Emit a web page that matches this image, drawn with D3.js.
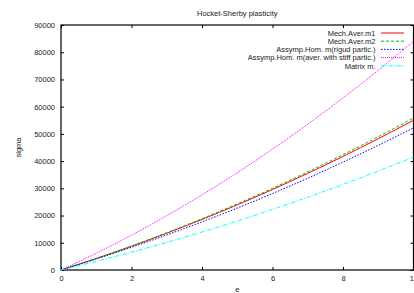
<!DOCTYPE html>
<html>
<head>
<meta charset="utf-8">
<script src="https://cdn.jsdelivr.net/npm/d3@7"></script>
<style>
  body { margin: 0; background: #fff; }
  svg { display: block; font-family: "Liberation Sans", Arial, sans-serif; }
</style>
</head>
<body>
<div id="chart"></div>
<script>
// strain values
var eValues = [0, 1, 2, 3, 4, 5, 6, 7, 8, 9, 10];

// sigma for each model
var mechAverM1 = [0, 4220, 8720, 13510, 18580, 23940, 29580, 35510, 41720, 48220, 55000];
var mechAverM2 = [0, 4280, 8850, 13710, 18860, 24300, 30020, 36040, 42350, 48940, 55830];
var assympRigid = [0, 4050, 8330, 12870, 17680, 22740, 28080, 33710, 39630, 45800, 52200];
var assympStiff = [0, 6150, 12800, 19950, 27600, 35750, 44400, 53550, 63200, 73350, 84000];
var matrixM = [0, 3160, 6540, 10140, 13960, 18000, 22260, 26740, 31440, 36360, 41500];

var xTicks = [0, 2, 4, 6, 8, 10];
var yTicks = [0, 10000, 20000, 30000, 40000, 50000, 60000, 70000, 80000, 90000];

var series = [
    {name: "Mech.Aver.m1", values: mechAverM1, color: "#ff0000", dash: null},
    {name: "Mech.Aver.m2", values: mechAverM2, color: "#00c000", dash: "3,2"},
    {name: "Assymp.Hom. m(rigud partic.)", values: assympRigid, color: "#0000ff", dash: "1.5,1.5"},
    {name: "Assymp.Hom. m(aver. with stiff partic.)", values: assympStiff, color: "#ff00ff", dash: "1,1"},
    {name: "Matrix m.", values: matrixM, color: "#00ffff", dash: "4,1.5,1,1.5"}
];

var width = 414, height = 293;
var margin = {left: 61, right: 0.5, top: 25, bottom: 23};

var svg = d3.select("#chart").append("svg")
    .attr("width", width)
    .attr("height", height);

var x = d3.scaleLinear().domain([0, 10]).range([margin.left, width - margin.right]);
var y = d3.scaleLinear().domain([0, 90000]).range([height - margin.bottom, margin.top]);

var tickLen = 3;

// bottom and top ticks
var xAxis = svg.append("g").attr("transform", "translate(0," + y(0) + ")")
    .call(d3.axisBottom(x).tickValues(xTicks).tickSize(-tickLen).tickPadding(6).tickFormat(d3.format("d")));
var xTop = svg.append("g").attr("transform", "translate(0," + y(90000) + ")")
    .call(d3.axisTop(x).tickValues(xTicks).tickSize(-tickLen).tickFormat(""));

var yAxis = svg.append("g").attr("transform", "translate(" + x(0) + ",0)")
    .call(d3.axisLeft(y).tickValues(yTicks).tickSize(-tickLen).tickPadding(6).tickFormat(d3.format("d")));
var yRight = svg.append("g").attr("transform", "translate(" + x(10) + ",0)")
    .call(d3.axisRight(y).tickValues(yTicks).tickSize(-tickLen).tickFormat(""));

svg.selectAll(".domain").remove();
svg.selectAll(".tick line").attr("stroke", "#000").attr("stroke-width", 1);
svg.selectAll(".tick text").attr("font-size", "7.5px").attr("fill", "#222");

// border
svg.append("rect")
    .attr("x", x(0)).attr("y", y(90000))
    .attr("width", x(10) - x(0)).attr("height", y(0) - y(90000))
    .attr("fill", "none").attr("stroke", "#000").attr("stroke-width", 1.2);

var line = d3.line()
    .x(function(d, i) { return x(eValues[i]); })
    .y(function(d) { return y(d); })
    .curve(d3.curveMonotoneX);

series.forEach(function(s) {
    svg.append("path")
        .attr("d", line(s.values))
        .attr("fill", "none")
        .attr("stroke", s.color)
        .attr("stroke-width", 1)
        .attr("stroke-dasharray", s.dash);
});

// legend
var legend = svg.append("g");
series.forEach(function(s, i) {
    var ly = 33 + i * 8.2;
    legend.append("text")
        .attr("x", 375.5).attr("y", ly + 2.7)
        .attr("text-anchor", "end")
        .attr("font-size", "7.5px")
        .attr("fill", "#222")
        .text(s.name);
    legend.append("line")
        .attr("x1", 381).attr("x2", 404)
        .attr("y1", ly).attr("y2", ly)
        .attr("stroke", s.color)
        .attr("stroke-width", 1)
        .attr("stroke-dasharray", s.dash);
});

// title and axis labels
svg.append("text")
    .attr("x", (x(0) + x(10)) / 2).attr("y", 16)
    .attr("text-anchor", "middle")
    .attr("font-size", "7.5px")
    .attr("fill", "#222")
    .text("Hocket-Sherby plasticity");

svg.append("text")
    .attr("x", (x(0) + x(10)) / 2).attr("y", 292)
    .attr("text-anchor", "middle")
    .attr("font-size", "7.5px")
    .attr("fill", "#222")
    .text("e");

svg.append("text")
    .attr("transform", "translate(21," + (y(45000) ) + ") rotate(-90)")
    .attr("text-anchor", "middle")
    .attr("font-size", "7.5px")
    .attr("fill", "#222")
    .text("sigma");
</script>
</body>
</html>
